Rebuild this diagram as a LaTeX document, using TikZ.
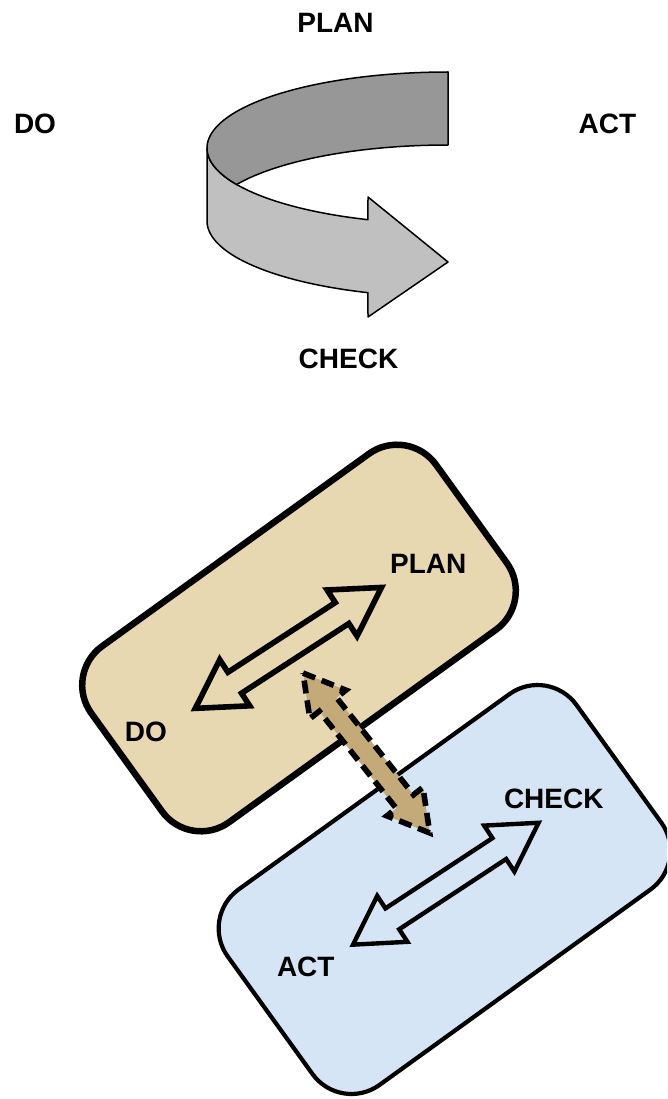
\documentclass[tikz,border=0pt]{standalone}
\usepackage{fontspec}
\setmainfont{Liberation Sans}
\definecolor{tanfill}{RGB}{232,216,178}
\definecolor{bluefill}{RGB}{214,229,245}
\definecolor{burlap}{RGB}{196,170,120}
\definecolor{ribbondark}{RGB}{151,151,151}
\definecolor{ribbonlight}{RGB}{192,192,192}
\tikzset{
  lbl/.style={font=\fontsize{28}{30}\selectfont\bfseries, anchor=base, inner sep=0pt},
  ribbon/.style={draw=black, line width=1.5pt, line join=round},
  cardbox/.style={shape=rectangle, draw=black, rounded corners=48pt, inner sep=0pt, rotate=35.8},
  dblarrow/.pic={
    \path[pic actions] (-111,0) -- (-64,-27.5) -- (-64,-12.5) -- (64,-12.5) -- (64,-27.5)
      -- (111,0) -- (64,27.5) -- (64,12.5) -- (-64,12.5) -- (-64,27.5) -- cycle;
  },
  linkarrow/.pic={
    \path[pic actions] (-102,0) -- (-62,-23) -- (-62,-11) -- (62,-11) -- (62,-23)
      -- (102,0) -- (62,23) -- (62,11) -- (-62,11) -- (-62,23) -- cycle;
  }
}
\begin{document}
\begin{tikzpicture}[x=1pt,y=-1pt]
\useasboundingbox (0,0) rectangle (667,1099);
\begin{scope}
\clip (0,0) rectangle (667,1099);

% ---------- top: curved ribbon arrow ----------
\draw[ribbon, fill=ribbonlight] (207,148) -- (207,221)
  -- plot[domain=180:250.6, samples=50] ({448+241*cos(\x)},{221-76*sin(\x)})
  -- (368,317) -- (448,262) -- (368,197)
  -- plot[domain=250.6:180, samples=50] ({448+241*cos(\x)},{148-76*sin(\x)})
  -- cycle;
\draw[ribbon, fill=ribbondark]
  plot[domain=90:208.9, samples=70] ({448+241*cos(\x)},{148-76*sin(\x)})
  -- plot[domain=151.1:90, samples=50] ({448+241*cos(\x)},{221-76*sin(\x)})
  -- cycle;

\node[lbl] (planT)  at (335.5,33) {PLAN};
\node[lbl] (doT)    at (35,134)   {DO};
\node[lbl] (actT)   at (607.5,134) {ACT};
\node[lbl] (checkT) at (348.5,368) {CHECK};

% ---------- bottom: two cards ----------
\node[cardbox, fill=tanfill, line width=6.5pt, minimum width=425pt, minimum height=217pt]
  (tanbox) at (299,638) {};
\pic[rotate=33, draw=black, line width=5.6pt, line join=miter] at (288.4,647.9) {dblarrow};
\node[lbl] (planB) at (428.3,573.3) {PLAN};
\node[lbl] (doB)   at (145.8,741.3) {DO};

\node[cardbox, fill=bluefill, line width=4.2pt, minimum width=430pt, minimum height=241pt]
  (bluebox) at (444.5,889.5) {};
\pic[rotate=33.3, draw=black, line width=4.4pt, line join=miter] at (445.8,883.7) {dblarrow};
\node[lbl] (checkB) at (553.8,808.8) {CHECK};
\node[lbl] (actB)   at (305.8,976.7) {ACT};

% ---------- link arrow between the cards ----------
\pic[rotate=-51.6, fill=burlap] at (366.4,753) {linkarrow};
\pic[rotate=-51.6, draw=black, line width=5.6pt, dash pattern=on 13pt off 7pt, line join=miter] at (366.4,753) {linkarrow};
\end{scope}
\end{tikzpicture}
\end{document}
